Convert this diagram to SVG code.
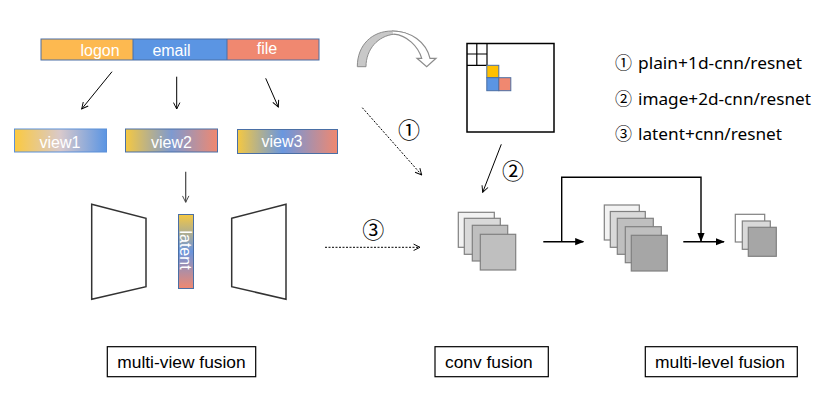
<svg xmlns="http://www.w3.org/2000/svg" width="828" height="413" viewBox="0 0 828 413">
<style>
.lbl{font-family:"Liberation Sans",Arial,sans-serif;fill:#fff;font-size:16px;text-anchor:middle}
.cap{font-family:"Liberation Sans",Arial,sans-serif;fill:#000;font-size:17px}
.circ{font-family:"Noto Sans CJK SC","Noto Sans",sans-serif;fill:#000;text-anchor:middle}
.leg{font-family:"Noto Sans","Noto Sans CJK SC",sans-serif;fill:#000;font-size:17px}
.box{fill:#fff;stroke:#000;stroke-width:1.2}
.trap{fill:#fff;stroke:#333;stroke-width:1.5}
.sq{stroke:#808080;stroke-width:1.2}
.ln{fill:none;stroke:#000;stroke-width:1}
.dash{fill:none;stroke:#000;stroke-width:1;stroke-dasharray:2,1.5}
.thick{fill:none;stroke:#000;stroke-width:1.4}
</style>
<defs>
<marker id="open" viewBox="0 0 10 10" refX="9" refY="5" markerWidth="8" markerHeight="8" orient="auto" markerUnits="userSpaceOnUse"><path d="M1,1 L9,5 L1,9" fill="none" stroke="#000" stroke-width="1.2"/></marker>
<marker id="openg" viewBox="0 0 10 10" refX="9" refY="5" markerWidth="8" markerHeight="8" orient="auto" markerUnits="userSpaceOnUse"><path d="M1,1 L9,5 L1,9" fill="none" stroke="#444" stroke-width="1.2"/></marker>
<marker id="fill" viewBox="0 0 10 10" refX="9" refY="5" markerWidth="9" markerHeight="9" orient="auto" markerUnits="userSpaceOnUse"><path d="M0,1 L10,5 L0,9 Z" fill="#000"/></marker>
<linearGradient id="g1" x1="0" y1="0" x2="1" y2="0"><stop offset="0" stop-color="#FBC93F"/><stop offset="0.5" stop-color="#D8C9CC"/><stop offset="1" stop-color="#5B95E3"/></linearGradient>
<linearGradient id="g2" x1="0" y1="0" x2="1" y2="0"><stop offset="0" stop-color="#F5C842"/><stop offset="0.5" stop-color="#7E9AD0"/><stop offset="1" stop-color="#F08870"/></linearGradient>
<linearGradient id="g3" x1="0" y1="0" x2="1" y2="0"><stop offset="0" stop-color="#F5C842"/><stop offset="0.45" stop-color="#6A97DF"/><stop offset="1" stop-color="#F08870"/></linearGradient>
<linearGradient id="gl" x1="0" y1="0" x2="0" y2="1"><stop offset="0" stop-color="#F5C842"/><stop offset="0.5" stop-color="#6A94DC"/><stop offset="1" stop-color="#F08870"/></linearGradient>
</defs>

<g id="source-bar">
<rect x="41" y="39" width="92" height="21" fill="#FDB950"/>
<rect x="133" y="39" width="94" height="21" fill="#5B95E3"/>
<rect x="227" y="39" width="92" height="21" fill="#F08870"/>
<rect x="41" y="39" width="278" height="21" fill="none" stroke="#4A6FA5" stroke-width="1"/>
<line x1="133" y1="39" x2="133" y2="60" stroke="#4A6FA5" stroke-width="1"/>
<line x1="227" y1="39" x2="227" y2="60" stroke="#4A6FA5" stroke-width="1"/>
<text class="lbl" x="100" y="55.5" font-size="16.5">logon</text>
<text class="lbl" x="171.5" y="55.5" font-size="16.5">email</text>
<text class="lbl" x="267" y="54">file</text>
</g>

<g id="view1">
<rect x="14.5" y="129" width="92" height="23" fill="url(#g1)" stroke="#5B8FD8" stroke-width="1"/>
<text class="lbl" x="60" y="147.5">view1</text>
</g>
<g id="view2">
<rect x="125.5" y="129" width="92" height="23" fill="url(#g2)" stroke="#4A6FA5" stroke-width="1"/>
<text class="lbl" x="171.5" y="147.5">view2</text>
</g>
<g id="view3">
<rect x="237.5" y="129.5" width="100" height="24" fill="url(#g3)" stroke="#4A6FA5" stroke-width="1"/>
<text class="lbl" x="282" y="146.5">view3</text>
</g>

<g id="encoder">
<polygon class="trap" points="91.7,204.3 146,218.3 146,286.7 91.7,299.3"/>
</g>
<g id="latent">
<rect x="178.5" y="214.5" width="15" height="74" fill="url(#gl)" stroke="#4A6FA5" stroke-width="1"/>
<text class="lbl" font-size="17" transform="translate(180,250) rotate(90)">latent</text>
</g>
<g id="decoder">
<polygon class="trap" points="231.7,218.3 286,204.3 286,299.3 231.7,286.7"/>
</g>

<g id="rotate-arrow">
<path d="M357.3,66.7 C357.3,45 372,31 392,31 C399,31 405,32.5 410,35 C404,34 399,33.6 394,34.2 C378,36 366,49 366,66.7 Z" fill="#C8C8C8" stroke="#8C8C8C" stroke-width="1"/>
<path d="M392,31 C411,31 426,42 430,58.3 L436,58.3 L426.7,66.7 L417,58.3 L421.7,58.3 C418,46 407,35.5 394,34.2" fill="#fff" stroke="#8C8C8C" stroke-width="1.2"/>
</g>

<g id="image-grid">
<rect x="467" y="43.5" width="87" height="88.5" fill="#fff" stroke="#000" stroke-width="1.5"/>
<path d="M467,54 H487 M476.8,43.5 V65.3 M487,43.5 V65.3 M467,65.3 H487" fill="none" stroke="#000" stroke-width="1.2"/>
<rect x="486.8" y="65.3" width="12" height="12.4" fill="#FFC000" stroke="#4A6FA5" stroke-width="1"/>
<rect x="486.8" y="77.7" width="12" height="13" fill="#5B95E3" stroke="#4A6FA5" stroke-width="1"/>
<rect x="498.8" y="77.7" width="12" height="13" fill="#F08870" stroke="#4A6FA5" stroke-width="1"/>
</g>

<g id="stack1">
<rect class="sq" x="458.3" y="212.3" width="36" height="35" fill="#F2F2F2"/>
<rect class="sq" x="464.3" y="218.3" width="36" height="36" fill="#D9D9D9"/>
<rect class="sq" x="472.3" y="225.3" width="35.4" height="35.7" fill="#BFBFBF"/>
<rect class="sq" x="480.3" y="234.3" width="35.4" height="35.7" fill="#BFBFBF"/>
</g>
<g id="stack2">
<rect class="sq" x="604.3" y="205" width="35" height="35" fill="#F2F2F2"/>
<rect class="sq" x="610.3" y="211.5" width="35" height="35.8" fill="#D9D9D9"/>
<rect class="sq" x="617.3" y="218.3" width="36" height="36" fill="#BFBFBF"/>
<rect class="sq" x="625.3" y="226.7" width="36" height="36" fill="#BFBFBF"/>
<rect class="sq" x="631.3" y="235.3" width="36" height="35.7" fill="#A6A6A6"/>
</g>
<g id="stack3">
<rect class="sq" x="735.3" y="214.3" width="29.4" height="27.7" fill="#FFFFFF"/>
<rect class="sq" x="742.3" y="221" width="28" height="28.3" fill="#D9D9D9"/>
<rect class="sq" x="748.3" y="227.3" width="28" height="29" fill="#A6A6A6"/>
</g>

<g id="legend">
<text class="circ" x="623.5" y="69" font-size="17">①</text>
<text class="leg" x="638" y="69" textLength="164" lengthAdjust="spacingAndGlyphs">plain+1d-cnn/resnet</text>
<text class="circ" x="623.5" y="104.5" font-size="17">②</text>
<text class="leg" x="638" y="104.5" textLength="173" lengthAdjust="spacingAndGlyphs">image+2d-cnn/resnet</text>
<text class="circ" x="623.5" y="140" font-size="17">③</text>
<text class="leg" x="638" y="140" textLength="144" lengthAdjust="spacingAndGlyphs">latent+cnn/resnet</text>
</g>

<g id="cap-multiview">
<rect class="box" x="107.3" y="346.7" width="148.4" height="30"/>
<text class="cap" x="117.3" y="367.5" textLength="128.4" lengthAdjust="spacingAndGlyphs">multi-view fusion</text>
</g>
<g id="cap-conv">
<rect class="box" x="435" y="346.7" width="113.3" height="30"/>
<text class="cap" x="445" y="367.5" textLength="87.7" lengthAdjust="spacingAndGlyphs">conv fusion</text>
</g>
<g id="cap-multilevel">
<rect class="box" x="645.3" y="346.7" width="152" height="30"/>
<text class="cap" x="655" y="367.5" textLength="130" lengthAdjust="spacingAndGlyphs">multi-level fusion</text>
</g>

<g id="connectors">
<line class="ln" x1="112" y1="71.7" x2="81.7" y2="109" marker-end="url(#open)"/>
<line class="ln" x1="176.7" y1="76.7" x2="176.7" y2="109" marker-end="url(#open)"/>
<line class="ln" x1="265.7" y1="78.3" x2="278.3" y2="107" marker-end="url(#open)"/>
<line x1="185.7" y1="171.7" x2="185.7" y2="202.3" stroke="#444" stroke-width="1.2" marker-end="url(#openg)"/>
<line class="dash" x1="362.3" y1="107.7" x2="421.7" y2="175" marker-end="url(#open)"/>
<line class="ln" x1="501.3" y1="144.3" x2="482.7" y2="192.3" marker-end="url(#open)"/>
<line class="dash" x1="325" y1="247.3" x2="420" y2="247.3" marker-end="url(#open)"/>
<line class="thick" x1="543.3" y1="241.7" x2="583.3" y2="241.7" marker-end="url(#fill)"/>
<path class="thick" d="M561.7,241.7 V177.3 H701 V241" marker-end="url(#fill)"/>
<line class="thick" x1="683.3" y1="241.7" x2="724" y2="241.7" marker-end="url(#fill)"/>
<text class="circ" x="409" y="137.5" font-size="22">①</text>
<text class="circ" x="513" y="179" font-size="22">②</text>
<text class="circ" x="373.3" y="238" font-size="22">③</text>
</g>
</svg>
